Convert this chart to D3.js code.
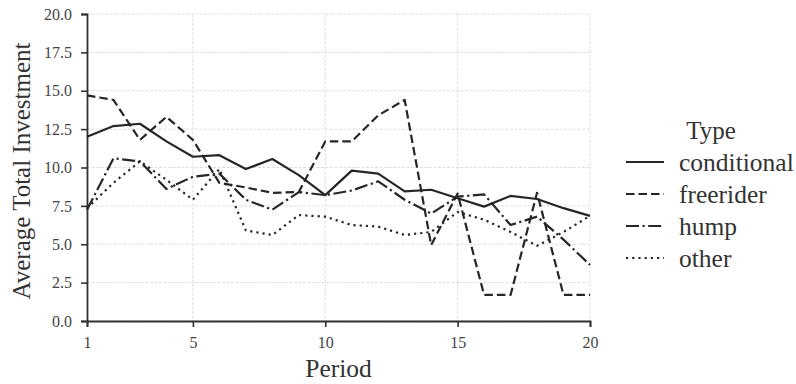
<!DOCTYPE html>
<html>
<head>
<meta charset="utf-8">
<script src="https://cdn.jsdelivr.net/npm/d3@7"></script>
<style>
  body { margin: 0; background: #fff; }
</style>
</head>
<body>
<svg width="796" height="384"></svg>
<script>
// periods 1..20
var periods = d3.range(1, 21);
var types = ["conditional", "freerider", "hump", "other"];

var conditional = [12.0, 12.7, 12.85, 11.7, 10.7, 10.8, 9.9, 10.55, 9.5, 8.2,
                   9.8, 9.6, 8.45, 8.55, 8.0, 7.45, 8.15, 7.95, 7.35, 6.85];
var freerider = [14.7, 14.4, 11.8, 13.3, 11.8, 9.0, 8.7, 8.35, 8.4, 11.7,
                 11.7, 13.4, 14.4, 4.95, 8.3, 1.7, 1.7, 8.35, 1.7, 1.7];
var hump = [7.25, 10.6, 10.4, 8.6, 9.4, 9.6, 7.9, 7.25, 8.4, 8.2,
            8.5, 9.1, 7.9, 7.0, 8.1, 8.25, 6.25, 6.8, 5.3, 3.65];
var other = [7.35, 9.0, 10.4, 9.2, 7.9, 9.9, 5.9, 5.6, 6.9, 6.8,
             6.25, 6.15, 5.6, 5.8, 7.1, 6.6, 5.8, 4.9, 5.8, 6.85];

var xTicks = [1, 5, 10, 15, 20];
var yTicks = [0, 2.5, 5, 7.5, 10, 12.5, 15, 17.5, 20];

var seriesValues = [conditional, freerider, hump, other];
var dashes = ["none", "8.5,4", "13,3.5,2.2,3.5", "2.2,4"];

var serif = "'Liberation Serif', 'Times New Roman', serif";
var svg = d3.select("svg").attr("font-family", serif);
var margin = { top: 14, right: 206, bottom: 63, left: 87 };
var width = 796 - margin.left - margin.right;
var height = 384 - margin.top - margin.bottom;
var ink = "#262626";

var g = svg.append("g")
    .attr("transform", "translate(" + margin.left + "," + margin.top + ")");

var x = d3.scaleLinear().domain([1, 20]).range([0, width]);
var y = d3.scaleLinear().domain([0, 20]).range([height, 0]);

// grid
g.append("g").selectAll("line").data(yTicks).enter().append("line")
    .attr("x1", 0).attr("x2", width)
    .attr("y1", function(d) { return y(d); })
    .attr("y2", function(d) { return y(d); })
    .attr("stroke", "#d6d6d6").attr("stroke-width", 0.8)
    .attr("stroke-dasharray", "3,1.5");
g.append("g").selectAll("line").data(xTicks).enter().append("line")
    .attr("y1", 0).attr("y2", height)
    .attr("x1", function(d) { return x(d); })
    .attr("x2", function(d) { return x(d); })
    .attr("stroke", "#d6d6d6").attr("stroke-width", 0.8)
    .attr("stroke-dasharray", "3,1.5");

// axes
var yAxis = g.append("g")
    .call(d3.axisLeft(y).tickValues(yTicks).tickFormat(d3.format(".1f")).tickSize(6).tickPadding(9));
var xAxis = g.append("g")
    .attr("transform", "translate(0," + height + ")")
    .call(d3.axisBottom(x).tickValues(xTicks).tickSize(6).tickPadding(10));

[yAxis, xAxis].forEach(function(a) {
    a.attr("font-family", serif).attr("font-size", 16);
    a.select(".domain").attr("stroke", "#333").attr("stroke-width", 1.8);
    a.selectAll(".tick line").attr("stroke", "#333").attr("stroke-width", 1.6);
    a.selectAll(".tick text").attr("fill", "#444");
});

// lines
var line = d3.line()
    .x(function(d, i) { return x(periods[i]); })
    .y(function(d) { return y(d); });

seriesValues.forEach(function(vals, i) {
    g.append("path")
        .datum(vals)
        .attr("fill", "none")
        .attr("stroke", ink)
        .attr("stroke-width", 2.2)
        .attr("stroke-linejoin", "round")
        .attr("stroke-dasharray", dashes[i])
        .attr("d", line);
});

// axis labels
svg.append("text")
    .attr("x", margin.left + x(10.5)).attr("y", 377)
    .attr("text-anchor", "middle")
    .attr("fill", "#333")
    .attr("font-size", 25.5)
    .text("Period");

svg.append("text")
    .attr("transform", "translate(30,171) rotate(-90)")
    .attr("text-anchor", "middle")
    .attr("fill", "#333")
    .attr("font-size", 25)
    .text("Average Total Investment");

// legend
var legend = svg.append("g").attr("transform", "translate(626,0)");
legend.append("text")
    .attr("x", 85).attr("y", 139)
    .attr("text-anchor", "middle")
    .attr("fill", "#333")
    .attr("font-size", 25)
    .text("Type");

types.forEach(function(t, i) {
    var yy = 162 + i * 32;
    legend.append("line")
        .attr("x1", 0).attr("x2", 38)
        .attr("y1", yy).attr("y2", yy)
        .attr("stroke", ink).attr("stroke-width", 2.2)
        .attr("stroke-dasharray", dashes[i]);
    legend.append("text")
        .attr("x", 53).attr("y", yy + 9)
        .attr("fill", "#333")
        .attr("font-size", 25.5)
        .text(t);
});
</script>
</body>
</html>
